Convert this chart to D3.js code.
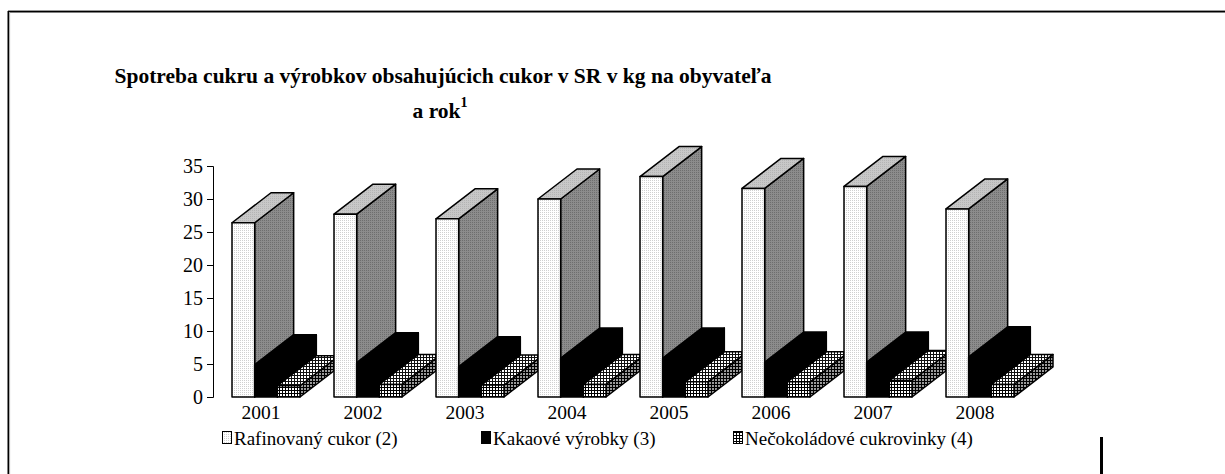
<!DOCTYPE html>
<html>
<head>
<meta charset="utf-8">
<script src="https://cdn.jsdelivr.net/npm/d3@7/dist/d3.min.js"></script>
<style>
  body { margin: 0; background: #fff; }
  text { font-family: "Liberation Serif", "Times New Roman", serif; fill: #000; }
</style>
</head>
<body>
<div id="chart"></div>
<script>
// data (kg per inhabitant and year)
var years = ["2001", "2002", "2003", "2004", "2005", "2006", "2007", "2008"];
var rafinovany = [26.4, 27.7, 27.0, 30.0, 33.4, 31.6, 31.9, 28.5];
var kakaove = [4.9, 5.2, 4.6, 5.9, 5.9, 5.3, 5.3, 6.1];
var necokoladove = [1.7, 1.9, 1.8, 1.9, 2.3, 2.3, 2.5, 1.9];
var seriesNames = ["Rafinovaný cukor (2)", "Kakaové výrobky (3)", "Nečokoládové cukrovinky (4)"];
var yTicks = [0, 5, 10, 15, 20, 25, 30, 35];

var width = 1225, height = 474;
var depthX = 39, depthY = -30;

var svg = d3.select("#chart")
  .append("svg")
    .attr("width", width)
    .attr("height", height)
    .attr("font-family", "Liberation Serif, Times New Roman, serif");

// patterns for the bar faces
var defs = svg.append("defs");
function dotPattern(id, bg, dot) {
  var p = defs.append("pattern").attr("id", id)
    .attr("width", 2).attr("height", 2).attr("patternUnits", "userSpaceOnUse");
  p.append("rect").attr("width", 2).attr("height", 2).attr("fill", bg);
  p.append("rect").attr("width", 1).attr("height", 1).attr("fill", dot);
}
function gridPattern(id, bg, line) {
  var p = defs.append("pattern").attr("id", id)
    .attr("width", 3).attr("height", 3).attr("patternUnits", "userSpaceOnUse");
  p.append("rect").attr("width", 3).attr("height", 3).attr("fill", bg);
  p.append("rect").attr("width", 3).attr("height", 1).attr("fill", line);
  p.append("rect").attr("width", 1).attr("height", 3).attr("fill", line);
}
dotPattern("rafFront", "#ffffff", "#d0d0d0");
dotPattern("rafTop", "#c8c8c8", "#b4b4b4");
dotPattern("rafSide", "#8c8c8c", "#6e6e6e");
gridPattern("necFront", "#ffffff", "#000000");
gridPattern("necTop", "#ffffff", "#111111");
gridPattern("necSide", "#9a9a9a", "#000000");

var faces = [
  {front: "url(#rafFront)", top: "url(#rafTop)", side: "url(#rafSide)"},
  {front: "#000", top: "#000", side: "#000"},
  {front: "url(#necFront)", top: "url(#necTop)", side: "url(#necSide)"}
];

// scales
var y = d3.scaleLinear()
  .domain([0, 35])
  .range([397, 166]);

var x = d3.scaleBand()
  .domain(years)
  .range([215, 1031])
  .paddingInner(1 / 3)
  .paddingOuter(1 / 6);

var x1 = d3.scaleBand()
  .domain([0, 1, 2])
  .range([0, x.bandwidth()]);

// frame
svg.append("line").attr("x1", 8).attr("x2", width).attr("y1", 10.5).attr("y2", 10.5)
  .attr("stroke", "#999").attr("stroke-width", 1);
svg.append("line").attr("x1", 8).attr("x2", width).attr("y1", 11.8).attr("y2", 11.8)
  .attr("stroke", "#000").attr("stroke-width", 1.6);
svg.append("line").attr("x1", 8.3).attr("x2", 8.3).attr("y1", 11).attr("y2", height)
  .attr("stroke", "#000").attr("stroke-width", 1.6);
svg.append("line").attr("x1", 9.6).attr("x2", 9.6).attr("y1", 12).attr("y2", height)
  .attr("stroke", "#aaa").attr("stroke-width", 1);
svg.append("rect").attr("x", 1100).attr("y", 437).attr("width", 3).attr("height", height - 437)
  .attr("fill", "#000");

// title
var title = svg.append("g").attr("font-weight", "bold").attr("text-anchor", "middle");
title.append("text")
  .attr("x", 443).attr("y", 83)
  .attr("font-size", 21.5)
  .text("Spotreba cukru a výrobkov obsahujúcich cukor v SR v kg na obyvateľa");
var t2 = title.append("text")
  .attr("x", 440).attr("y", 118)
  .attr("font-size", 21.5);
t2.append("tspan").text("a rok");
t2.append("tspan").attr("dy", -11).attr("font-size", 14).text("1");

// y axis
var yAxis = svg.append("g")
  .attr("transform", "translate(213,0)")
  .call(d3.axisLeft(y).tickValues(yTicks).tickSize(6).tickPadding(4));
yAxis.select(".domain").attr("stroke", "#000").attr("stroke-width", 1);
yAxis.selectAll(".tick line").attr("stroke", "#000");
yAxis.selectAll(".tick text")
  .attr("font-size", 20)
  .attr("font-family", "Liberation Serif, Times New Roman, serif")
  .attr("fill", "#000");

// bars: one group per year, three 3D columns side by side
function poly(pts) { return "M" + pts.map(function(p) { return p.join(","); }).join("L") + "Z"; }

var groups = svg.append("g")
  .selectAll("g")
  .data(years.map(function(yr, i) {
    return {year: yr, values: [rafinovany[i], kakaove[i], necokoladove[i]]};
  }))
  .enter()
  .append("g");

groups.each(function(d) {
  var g = d3.select(this);
  d.values.forEach(function(v, s) {
    var x0 = x(d.year) + x1(s), x2 = x0 + x1.bandwidth();
    var yt = y(v), yb = y(0);
    var b = g.append("g")
      .attr("stroke", "#000").attr("stroke-width", 1.5).attr("stroke-linejoin", "round");
    // side face
    b.append("path")
      .attr("d", poly([[x2, yb], [x2 + depthX, yb + depthY], [x2 + depthX, yt + depthY], [x2, yt]]))
      .attr("fill", faces[s].side);
    // top face
    b.append("path")
      .attr("d", poly([[x0, yt], [x0 + depthX, yt + depthY], [x2 + depthX, yt + depthY], [x2, yt]]))
      .attr("fill", faces[s].top);
    // front face
    b.append("rect")
      .attr("x", x0).attr("y", yt)
      .attr("width", x2 - x0).attr("height", yb - yt)
      .attr("fill", faces[s].front);
  });
});

// category labels
svg.append("g")
  .selectAll("text")
  .data(years)
  .enter()
  .append("text")
    .attr("x", function(d) { return x(d) + x.bandwidth() / 2 - 5; })
    .attr("y", 419)
    .attr("text-anchor", "middle")
    .attr("font-size", 19.5)
    .text(function(d) { return d; });

// legend
var legendX = [222, 481, 733];
var legend = svg.append("g")
  .selectAll("g")
  .data(seriesNames)
  .enter()
  .append("g")
    .attr("transform", function(d, i) { return "translate(" + legendX[i] + ",0)"; });
legend.append("rect")
  .attr("x", 0.5).attr("y", 431.5)
  .attr("width", 9).attr("height", 12)
  .attr("stroke", "#000").attr("stroke-width", 1)
  .attr("fill", function(d, i) { return faces[i].front; });
legend.append("text")
  .attr("x", 12).attr("y", 445)
  .attr("font-size", 19)
  .text(function(d) { return d; });
</script>
</body>
</html>
